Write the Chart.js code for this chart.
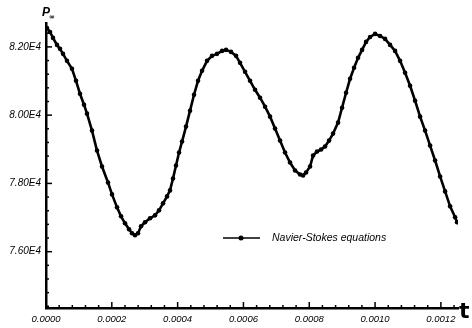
<!DOCTYPE html>
<html>
<head>
<meta charset="utf-8">
<script src="https://cdn.jsdelivr.net/npm/chart.js@4"></script>
<style>
  html, body { margin: 0; padding: 0; background: #fff; overflow: hidden; }
  #wrap { width: 472px; height: 328px; position: relative; }
</style>
</head>
<body>
<div id="wrap"><canvas id="c"></canvas></div>
<script>
// time (s)
const tValues = [
  0.0000030, 0.0000122, 0.0000213, 0.0000334, 0.0000426, 0.0000517, 0.0000638, 0.0000790,
  0.0000912, 0.0001033, 0.0001155, 0.0001246, 0.0001398, 0.0001550, 0.0001702, 0.0001884,
  0.0002006, 0.0002158, 0.0002280, 0.0002401, 0.0002523, 0.0002614, 0.0002705, 0.0002796,
  0.0002888, 0.0003009, 0.0003161, 0.0003313, 0.0003435, 0.0003556, 0.0003678, 0.0003769,
  0.0003860, 0.0003951, 0.0004043, 0.0004134, 0.0004255, 0.0004377, 0.0004498, 0.0004620,
  0.0004742, 0.0004894, 0.0005046, 0.0005198, 0.0005350, 0.0005471, 0.0005623, 0.0005775,
  0.0005897, 0.0006049, 0.0006201, 0.0006353, 0.0006505, 0.0006657, 0.0006809, 0.0006960,
  0.0007112, 0.0007264, 0.0007416, 0.0007568, 0.0007720, 0.0007812, 0.0007903, 0.0008024,
  0.0008116, 0.0008237, 0.0008359, 0.0008480, 0.0008602, 0.0008723, 0.0008875, 0.0008997,
  0.0009119, 0.0009240, 0.0009362, 0.0009483, 0.0009605, 0.0009726, 0.0009848, 0.0010000,
  0.0010152, 0.0010304, 0.0010456, 0.0010608, 0.0010760, 0.0010912, 0.0011064, 0.0011216,
  0.0011368, 0.0011520, 0.0011672, 0.0011824, 0.0011976, 0.0012128, 0.0012280, 0.0012432,
  0.0012492
];
// wall pressure
const pValues = [
  82555, 82438, 82263, 82058, 81942, 81796, 81591, 81358,
  81007, 80628, 80306, 80044, 79547, 78963, 78496, 78029,
  77678, 77299, 77036, 76832, 76656, 76540, 76481, 76540,
  76744, 76861, 76978, 77065, 77211, 77416, 77620, 77795,
  78146, 78525, 78905, 79226, 79664, 80131, 80598, 81007,
  81299, 81591, 81737, 81796, 81883, 81912, 81854, 81737,
  81533, 81270, 81007, 80744, 80511, 80248, 79956, 79606,
  79255, 78905, 78613, 78379, 78262, 78233, 78321, 78496,
  78817, 78934, 78992, 79080, 79255, 79460, 79781, 80219,
  80657, 81066, 81387, 81679, 81912, 82146, 82292, 82380,
  82321, 82234, 82058, 81883, 81591, 81241, 80861, 80423,
  79956, 79547, 79109, 78671, 78204, 77766, 77328, 77007,
  76861
];

const xTickValues = [0, 0.0002, 0.0004, 0.0006, 0.0008, 0.0010, 0.0012];
const xTickLabels = ['0.0000', '0.0002', '0.0004', '0.0006', '0.0008', '0.0010', '0.0012'];
const yTickValues = [76000, 78000, 80000, 82000];
const yTickLabels = ['7.60E4', '7.80E4', '8.00E4', '8.20E4'];
const seriesLabel = 'Navier-Stokes equations';

const points = tValues.map((t, i) => ({ x: t, y: pValues[i] }));

// small inward ticks, axis titles and the legend box
const decor = {
  id: 'decor',
  afterDraw(chart) {
    const { ctx, chartArea: a, scales: { x, y } } = chart;
    ctx.save();
    ctx.strokeStyle = '#000';
    ctx.fillStyle = '#000';
    ctx.lineWidth = 1.5;
    // x ticks: minor every 0.00004, major every 0.0002
    for (let i = 0; i <= 31; i++) {
      const v = i * 0.00004;
      const px = x.getPixelForValue(v);
      if (px > a.right) break;
      const len = i % 5 === 0 ? 6 : 3;
      ctx.beginPath(); ctx.moveTo(px, a.bottom); ctx.lineTo(px, a.bottom - len); ctx.stroke();
    }
    // y ticks: minor every 400, major every 2000
    for (let v = 74400; v <= 82600; v += 400) {
      const py = y.getPixelForValue(v);
      const len = v % 2000 === 0 ? 6 : 3;
      ctx.beginPath(); ctx.moveTo(a.left, py); ctx.lineTo(a.left + len, py); ctx.stroke();
    }
    // axis titles
    ctx.font = 'italic bold 12px "Liberation Sans", Arial, sans-serif';
    ctx.textBaseline = 'alphabetic';
    ctx.textAlign = 'left';
    ctx.fillText('P', 42, 16);
    ctx.font = 'bold 7px "DejaVu Sans", sans-serif';
    ctx.fillText('\u221e', 49, 19);
    ctx.font = 'bold 22px "DejaVu Sans", sans-serif';
    ctx.fillText('t', 459, 318);
    // legend
    const ly = 238;
    ctx.lineWidth = 1.5;
    ctx.beginPath(); ctx.moveTo(223, ly); ctx.lineTo(260, ly); ctx.stroke();
    ctx.beginPath(); ctx.arc(241, ly, 2.5, 0, Math.PI * 2); ctx.fill();
    ctx.font = 'italic 10.5px "Liberation Sans", Arial, sans-serif';
    ctx.textBaseline = 'middle';
    ctx.fillText(seriesLabel, 272, ly);
    ctx.restore();
  }
};

new Chart(document.getElementById('c'), {
  type: 'scatter',
  data: {
    datasets: [{
      label: seriesLabel,
      data: points,
      showLine: true,
      borderColor: '#000',
      backgroundColor: '#000',
      borderWidth: 2.6,
      pointRadius: 2.3,
      pointBorderWidth: 0,
      pointBackgroundColor: '#000',
      tension: 0
    }]
  },
  options: {
    responsive: true,
    maintainAspectRatio: false,
    animation: false,
    layout: { padding: { top: 23, right: 14, left: 0, bottom: 0 } },
    plugins: { legend: { display: false }, tooltip: { enabled: false } },
    scales: {
      x: {
        type: 'linear',
        min: 0,
        max: 0.001252,
        afterFit(s) { s.height = 20; },
        afterBuildTicks(s) { s.ticks = xTickValues.map(v => ({ value: v })); },
        grid: { color: 'rgba(0,0,0,0)', drawTicks: false },
        border: { display: true, color: '#000', width: 2.5 },
        ticks: {
          padding: 6,
          color: '#000',
          maxRotation: 0,
          autoSkip: false,
          font: { family: '"Liberation Sans", Arial, sans-serif', size: 9.5, style: 'italic' },
          callback(v, i) { return xTickLabels[i]; }
        }
      },
      y: {
        type: 'linear',
        min: 74350,
        max: 82700,
        afterFit(s) { s.width = 46; },
        afterBuildTicks(s) { s.ticks = yTickValues.map(v => ({ value: v })); },
        grid: { color: 'rgba(0,0,0,0)', drawTicks: false },
        border: { display: true, color: '#000', width: 2.5 },
        ticks: {
          padding: 5,
          color: '#000',
          font: { family: '"Liberation Sans", Arial, sans-serif', size: 10, style: 'italic' },
          callback(v, i) { return yTickLabels[i]; }
        }
      }
    }
  },
  plugins: [decor]
});
</script>
</body>
</html>
